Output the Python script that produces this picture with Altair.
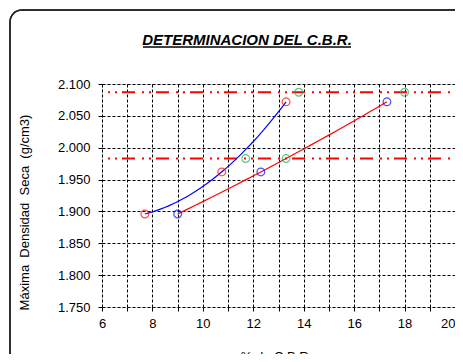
import altair as alt
import pandas as pd

FONT = "Liberation Sans"

# data
red_x = [7.7, 10.75, 13.3]          # red markers, joined by the blue trend curve
red_y = [1.896, 1.962, 2.072]
blue_x = [9.0, 12.3, 17.3]          # blue markers, joined by the red trend curve
blue_y = [1.896, 1.962, 2.072]
green_x = [13.8, 18.0, 11.7, 13.3]
green_y = [2.087, 2.087, 1.983, 1.983]
ref_y = [2.087, 1.983]

x_ticks = list(range(6, 21))
y_ticks = [1.75, 1.80, 1.85, 1.90, 1.95, 2.00, 2.05, 2.10]

W, H = 353, 223

df_red = pd.DataFrame({"x": red_x, "y": red_y})
df_blue = pd.DataFrame({"x": blue_x, "y": blue_y})
df_green = pd.DataFrame({"x": green_x, "y": green_y})
df_ref = pd.DataFrame({"y": ref_y})

xs = alt.Scale(domain=[6, 20], nice=False, zero=False)
ys = alt.Scale(domain=[1.75, 2.10], nice=False, zero=False)

SP = "\u00a0\u00a0"

x_axis = alt.Axis(
    values=x_ticks,
    labelExpr="datum.value % 2 == 0 ? datum.label : ''",
    labelAlign=alt.condition("datum.value == 20", alt.value("right"), alt.value("center")),
    labelOverlap=False, labelBound=False, labelFlush=False,
    title="% de C.B.R.",
    titleX=174, titleY=53, titleBaseline="alphabetic", titleAnchor="start", titleAlign="center",
    grid=True, gridColor="black", gridDash=[3, 2], gridOpacity=1, gridWidth=1,
    domain=False, tickColor="black", tickSize=4, labelPadding=6,
    labelFontSize=13, labelFont=FONT, labelColor="black",
    titleFontSize=13, titleFont=FONT, titleFontWeight="normal", titleColor="black",
)
y_axis = alt.Axis(
    values=y_ticks, format=".3f",
    labelOverlap=False, labelBound=False, labelFlush=False,
    title="Máxima" + SP + "Densidad" + SP + "Seca" + SP + "(g/cm3)",
    titleAngle=-90, titleX=-78, titleY=128, titleAlign="center", titleBaseline="middle",
    titleAnchor="start",
    grid=True, gridColor="black", gridDash=[3, 2], gridOpacity=1, gridWidth=1,
    domain=False, tickColor="black", tickSize=4, labelPadding=8,
    labelFontSize=13, labelFont=FONT, labelColor="black",
    titleFontSize=13, titleFont=FONT, titleFontWeight="normal", titleColor="black",
)

X = alt.X("x:Q", scale=xs, axis=x_axis)
Y = alt.Y("y:Q", scale=ys, axis=y_axis)
Xn = alt.X("x:Q", scale=xs, axis=x_axis)
Yn = alt.Y("y:Q", scale=ys, axis=y_axis)

frame = alt.Chart(df_ref).mark_rect(
    fill=None, fillOpacity=0, stroke="#222222", strokeWidth=1.5, cornerRadius=12
).encode(
    x=alt.value(-92), x2=alt.value(W + 40), y=alt.value(-74), y2=alt.value(H + 80)
)

grid = alt.Chart(df_red).mark_point(opacity=0).encode(x=X, y=Y)

refs = alt.Chart(df_ref).mark_rule(
    color="#FF0000", strokeWidth=2, strokeDash=[13, 5, 2, 5, 2, 7], strokeDashOffset=20
).encode(y=Yn)

blue_curve = alt.Chart(df_red).transform_regression(
    "x", "y", method="poly", order=2, extent=[7.7, 13.3]
).mark_line(color="#0000FF", strokeWidth=1.2).encode(x=Xn, y=Yn)

red_curve = alt.Chart(df_blue).transform_regression(
    "x", "y", method="poly", order=2, extent=[9.0, 17.3]
).mark_line(color="#FF0000", strokeWidth=1.2).encode(x=Xn, y=Yn)

red_pts = alt.Chart(df_red).mark_point(
    shape="circle", size=60, color="#FF0000", filled=False, strokeWidth=1.2
).encode(x=Xn, y=Yn)
blue_pts = alt.Chart(df_blue).mark_point(
    shape="circle", size=60, color="#0000FF", filled=False, strokeWidth=1.2
).encode(x=Xn, y=Yn)
green_pts = alt.Chart(df_green).mark_point(
    shape="circle", size=60, color="#22AA55", filled=False, strokeWidth=1.2
).encode(x=Xn, y=Yn)

title_txt = alt.Chart(df_ref).transform_aggregate(n="count()").mark_text(
    text="DETERMINACION DEL C.B.R.", font=FONT, fontSize=15, fontWeight="bold",
    fontStyle="italic", align="center", baseline="alphabetic", color="black"
).encode(x=alt.value(145), y=alt.value(-39))

title_line = alt.Chart(df_ref).transform_aggregate(n="count()").mark_rule(
    color="black", strokeWidth=1.3
).encode(x=alt.value(41), x2=alt.value(249), y=alt.value(-37))

chart = alt.layer(
    frame, grid, refs, blue_curve, red_curve, red_pts, blue_pts, green_pts,
    title_txt, title_line
).properties(
    width=W, height=H,
    autosize=alt.AutoSizeParams(type="none"),
    padding={"left": 94, "top": 76, "right": 0, "bottom": 47},
).configure_view(
    stroke="black", strokeDash=[3, 2], strokeWidth=1
).configure(background="white")

chart.save("out.html", embed_options={"renderer": "svg", "actions": False})
